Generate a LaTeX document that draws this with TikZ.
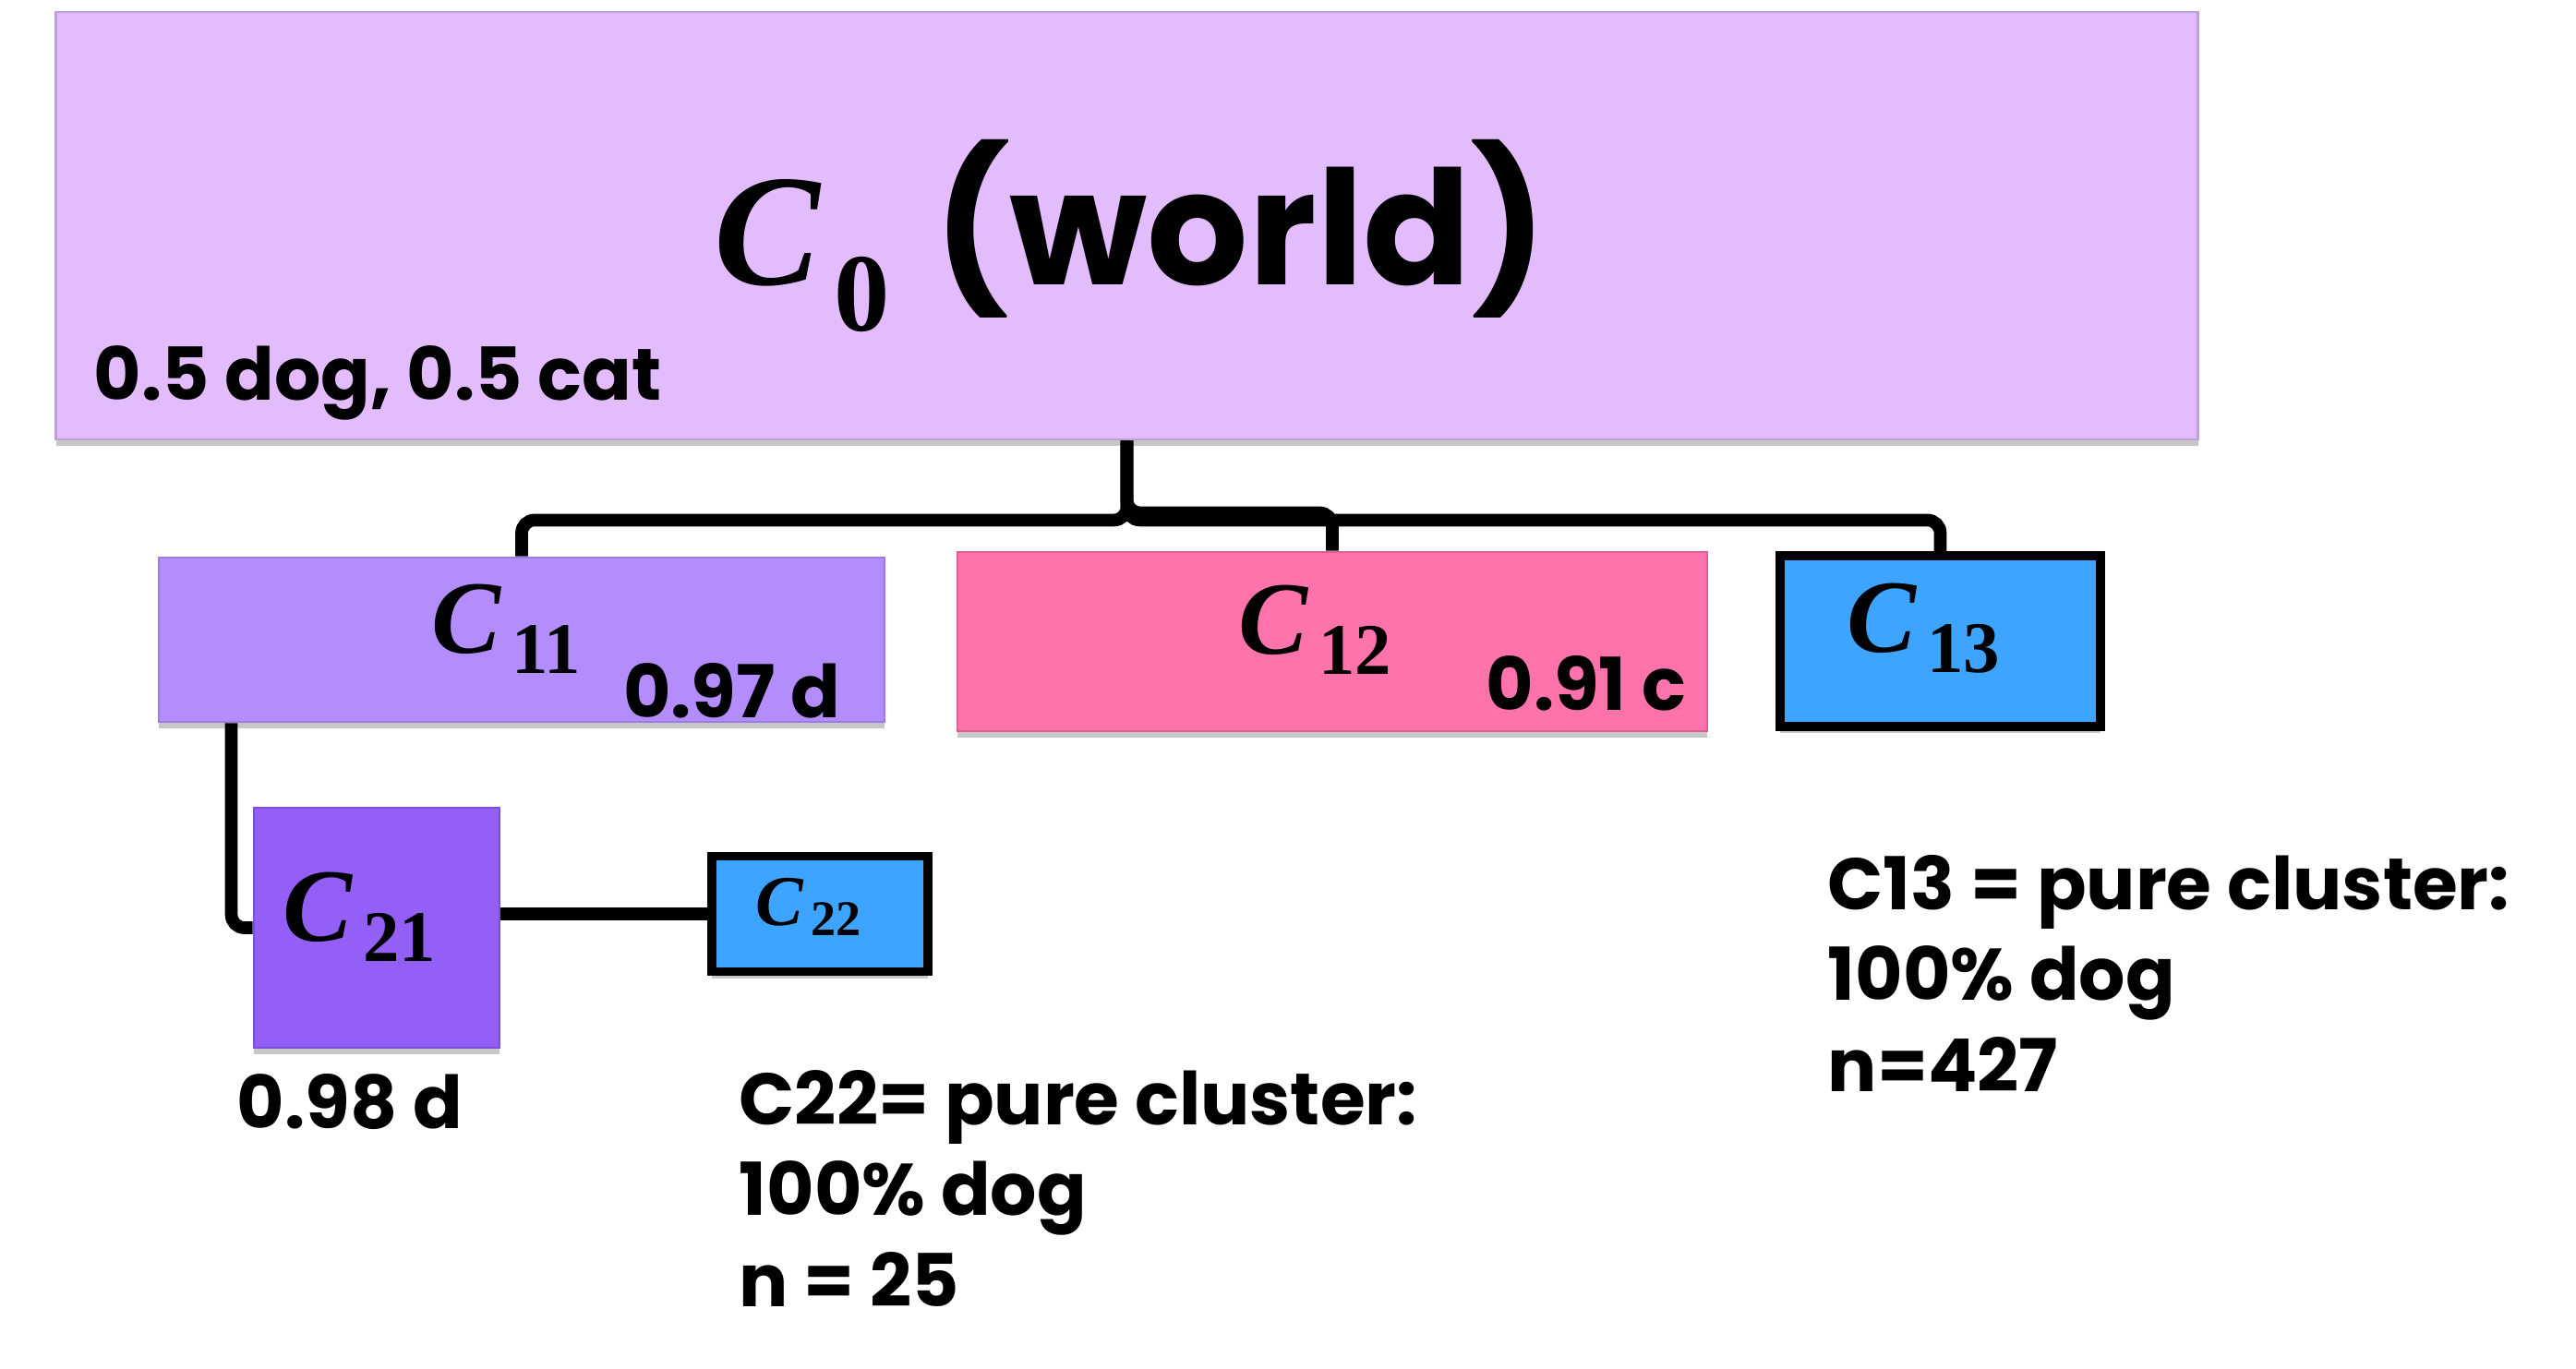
\documentclass[tikz,border=0pt]{standalone}
\usepackage[no-math]{fontspec}
\setmainfont{Poppins}
\newfontfamily\clfont{Liberation Serif}
\usepackage{amsmath}
\usepackage{tikz}
\usetikzlibrary{positioning, calc, shadows}
\definecolor{worldfill}{HTML}{E3BCFD}
\definecolor{worldline}{HTML}{BFA0DC}
\definecolor{lavfill}{HTML}{B38DFC}
\definecolor{lavline}{HTML}{9B7CE6}
\definecolor{pinkfill}{HTML}{FF73AD}
\definecolor{pinkline}{HTML}{E05F95}
\definecolor{purefill}{HTML}{3DA4FF}
\definecolor{violetfill}{HTML}{935FF7}
\definecolor{violetline}{HTML}{7B4FD9}
\newcommand{\clname}[1]{$\text{\clfont\bfseries\itshape C}_{\,\text{\clfont\bfseries #1}}$}
\tikzset{
    box_shadow/.style={drop shadow={shadow xshift=0pt, shadow yshift=-0.07cm, fill=black, opacity=0.22}},
    box_world/.style={rectangle, draw=worldline, line width=0.8pt, fill=worldfill, box_shadow},
    box_lav/.style={rectangle, draw=lavline, line width=0.8pt, fill=lavfill, box_shadow},
    box_pink/.style={rectangle, draw=pinkline, line width=0.8pt, fill=pinkfill, box_shadow},
    box_violet/.style={rectangle, draw=violetline, line width=0.8pt, fill=violetfill, box_shadow},
    box_pure/.style={rectangle, draw=black, line width=2.8pt, fill=purefill, box_shadow},
    name_big/.style={font=\fontsize{32}{38}\selectfont, inner sep=0pt},
    info/.style={font=\fontsize{22.5}{28}\selectfont\bfseries, align=left, inner sep=0pt},
    link/.style={line width=3.9pt, rounded corners=4pt}
}
\begin{document}
\begin{tikzpicture}
            \useasboundingbox (0,0) rectangle (27.9,-14.83);

            % Root cluster
            \node (c0) [box_world, minimum width=23.2cm, minimum height=4.63cm] at (12.205,-2.445) {};
            \node (c0name) at (12.25,-2.55) [inner sep=0pt] {\fontsize{49}{58}\selectfont\clname{0} \textbf{(world)}};
            \node (c0mix) [info, anchor=base west] at (1.01,-4.33) {0.5 dog, 0.5 cat};

            % First level
            \node (c11) [box_lav, minimum width=7.86cm, minimum height=1.78cm] at (5.65,-6.93) {};
            \node (c11name) [name_big] at (5.49,-6.81) {\clname{11}};
            \node (c11mix) [info, anchor=base east] at (9.11,-7.77) {0.97 d};

            \node (c12) [box_pink, minimum width=8.12cm, minimum height=1.94cm] at (14.43,-6.95) {};
            \node (c12name) [name_big] at (14.25,-6.82) {\clname{12}};
            \node (c12mix) [info, anchor=base east] at (18.27,-7.69) {0.91 c};

            \node (c13) [box_pure, minimum width=3.47cm, minimum height=1.85cm] at (21.015,-6.945) {};
            \node (c13name) [name_big] at (20.84,-6.81) {\clname{13}};

            % Second level
            \node (c21) [box_violet, minimum width=2.66cm, minimum height=2.6cm] at (4.08,-10.05) {};
            \node (c21name) [name_big] at (3.9,-9.93) {\clname{21}};
            \node (c21mix) [info, anchor=base west] at (2.56,-12.22) {0.98 d};

            \node (c22) [box_pure, minimum width=2.34cm, minimum height=1.25cm] at (8.88,-9.9) {};
            \node (c22name) [inner sep=0pt, font=\fontsize{22}{26}\selectfont] at (8.76,-9.82) {\clname{22}};

            % Notes (anchored at the last line)
            \node (c22note) [info, anchor=base west] at (8.0,-14.15) {C22= pure cluster:\\100\% dog\\n = 25};
            \node (c13note) [info, anchor=base west] at (19.79,-11.82) {C13 = pure cluster:\\100\% dog\\n=427};

            % Connections
            \draw [link] (c0.south) -- ++(0,-0.86) -| (c11.north);
            \draw [link] (c0.south) -- ++(0,-0.78) -| (c12.north);
            \draw [link] (c0.south) -- ++(0,-0.86) -| (c13.north);
            \draw [link] ($(c11.south west)+(0.8,0)$) |- (c21.west);
            \draw [link] (c21.east |- c22.west) -- (c22.west);
\end{tikzpicture}
\end{document}
